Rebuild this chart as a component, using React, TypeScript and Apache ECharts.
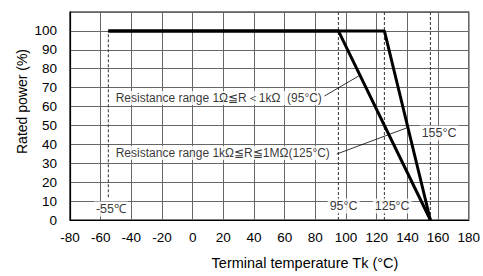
import React, { useEffect, useRef } from "react";
import * as echarts from "echarts";

// Derating curves: [temperature °C, rated power %]
const curve95: number[][] = [[-55, 100], [95, 100], [155, 0]];
const curve125: number[][] = [[-55, 100], [125, 100], [155, 0]];

// Dashed reference temperatures with their vertical extent (power %)
const refTemps: number[] = [-55, 95, 125, 155];
const refSpans: number[][] = [[12, 100], [0, 110], [0, 110], [0, 110]];

// Annotation texts and anchors (data coords, left edge / middle)
const annTexts: string[] = [
  "Resistance range 1Ω≦R＜1kΩ  (95°C)",
  "Resistance range 1kΩ≦R≦1MΩ(125°C)",
  "155°C",
  "95°C",
  "125°C",
  "-55℃",
];
const annPos: number[][] = [
  [-51.5, 64.5],
  [-51.5, 35.4],
  [148, 46],
  [88, 7.4],
  [117.4, 7.4],
  [-64.4, 5.8],
];
// Leader lines from label to curve
const leaders: number[][][] = [
  [[86, 65.6], [108.3, 76.2]],
  [[94, 34.9], [139.5, 48.7]],
];

const FONT = "'Liberation Sans', Arial, Helvetica, sans-serif";

export default function App() {
  const ref = useRef<HTMLDivElement>(null);
  useEffect(() => {
    if (!ref.current) return;
    const chart = echarts.init(ref.current, undefined, { renderer: "svg" });
    const series: any[] = [];
    refTemps.forEach((t, i) => {
      series.push({
        type: "line",
        data: [[t, refSpans[i][0]], [t, refSpans[i][1]]],
        symbol: "none",
        silent: true,
        z: 2,
        lineStyle: { color: "#333", width: 1, type: [3, 2] },
      });
    });
    leaders.forEach((seg) => {
      series.push({
        type: "line",
        data: seg,
        symbol: "none",
        silent: true,
        z: 3,
        lineStyle: { color: "#000", width: 0.8 },
      });
    });
    [curve95, curve125].forEach((c) => {
      series.push({
        type: "line",
        data: c,
        symbol: "none",
        z: 5,
        lineStyle: { color: "#000", width: 3 },
      });
    });
    series.push({
      type: "scatter",
      symbolSize: 0,
      z: 4,
      silent: true,
      data: annTexts.map((t, i) => ({
        value: annPos[i],
        label: {
          show: true,
          formatter: t,
          position: "right",
          distance: 0,
          color: "#000",
          fontSize: i < 2 ? 12 : 12.5,
          fontFamily: FONT,
          backgroundColor: "#fff",
          padding: [1, 2],
        },
      })),
    });
    chart.setOption({
      animation: false,
      backgroundColor: "#fff",
      grid: {
        left: 70,
        top: 12,
        right: 14,
        bottom: 56,
        show: true,
        borderColor: "#000",
        borderWidth: 1.2,
      },
      xAxis: {
        type: "value",
        min: -80,
        max: 180,
        interval: 20,
        axisLine: { onZero: false, lineStyle: { color: "#000", width: 1.2 } },
        axisTick: { show: false },
        axisLabel: { color: "#000", fontSize: 13.5, fontFamily: FONT, margin: 10 },
        splitLine: { lineStyle: { color: "#666", width: 1 } },
      },
      yAxis: {
        type: "value",
        min: 0,
        max: 110,
        interval: 10,
        axisLine: { show: true, onZero: false, lineStyle: { color: "#000", width: 1.2 } },
        axisTick: { show: false },
        axisLabel: {
          color: "#000",
          fontSize: 13.5,
          fontFamily: FONT,
          margin: 13,
          formatter: (v: number) => (v > 100 ? "" : String(v)),
        },
        splitLine: { lineStyle: { color: "#666", width: 1 } },
      },
      graphic: [
        {
          type: "text",
          x: 22,
          y: 101.5,
          rotation: Math.PI / 2,
          style: {
            text: "Rated power (%)",
            fontSize: 14,
            fontFamily: FONT,
            fill: "#000",
            textAlign: "center",
            textVerticalAlign: "middle",
          },
        },
        {
          type: "text",
          x: 305,
          y: 263,
          style: {
            text: "Terminal temperature Tk (°C)",
            fontSize: 14.5,
            fontFamily: FONT,
            fill: "#000",
            textAlign: "center",
            textVerticalAlign: "middle",
          },
        },
      ],
      series,
    });
    return () => chart.dispose();
  }, []);
  return (
    <div
      ref={ref}
      style={{ position: "fixed", left: 0, top: 0, width: 483, height: 276 }}
    />
  );
}
